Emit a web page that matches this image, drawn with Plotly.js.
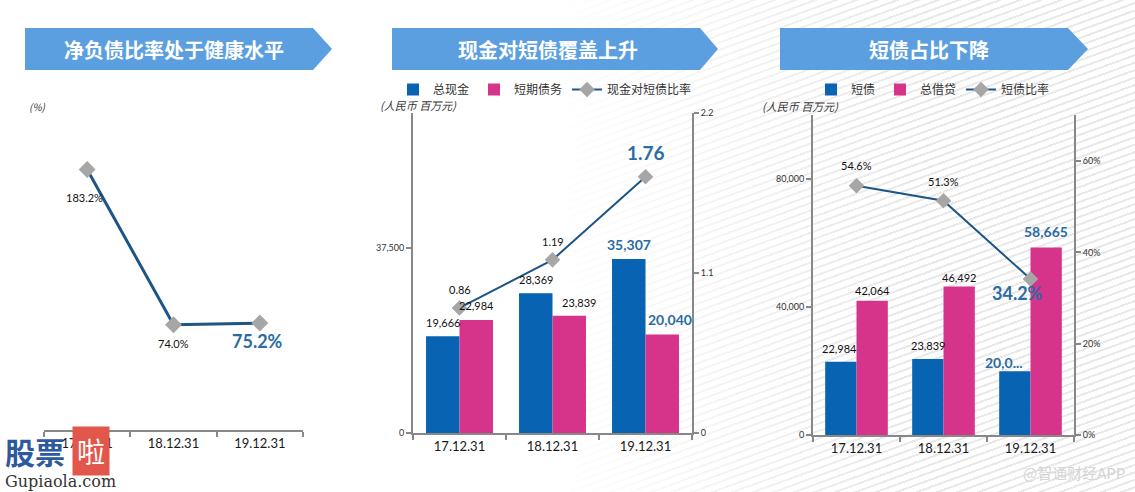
<!DOCTYPE html>
<html>
<head>
<meta charset="utf-8">
<script src="https://cdn.plot.ly/plotly-3.0.1.min.js"></script>
<style>
  body { margin: 0; background: #fff; }
  #bg {
    position: absolute; left: 0; top: 0; width: 1135px; height: 492px;
    background: repeating-linear-gradient(160deg, #ffffff 0px, #ffffff 5px, #e9e9e9 5px, #e9e9e9 7px);
    -webkit-mask-image: linear-gradient(to right, transparent 48%, #000 80%);
    mask-image: linear-gradient(to right, transparent 48%, #000 80%);
  }
  #chart { position: absolute; left: 0; top: 0; width: 1135px; height: 492px; }
</style>
</head>
<body>
<div id="bg"></div>
<div id="chart"></div>
<script>
// data
const categories = ["17.12.31", "18.12.31", "19.12.31"];
const netDebtRatio = [183.2, 74.0, 75.2];          // %
const totalCash = [19666, 28369, 35307];           // RMB mn
const shortDebt = [22984, 23839, 20040];           // RMB mn
const cashCoverage = [0.86, 1.19, 1.76];
const totalBorrowing = [42064, 46492, 58665];      // RMB mn
const shortDebtShare = [0.546, 0.513, 0.342];

const titles = ["净负债比率处于健康水平", "现金对短债覆盖上升", "短债占比下降"];

const BLUE = "#0863b2";
const PINK = "#d6338b";
const LINE = "#1d5585";
const GREY = "#a6a6a6";
const HILITE = "#2a6ca3";
const AXIS = "#888888";
const CJK = "'Noto Sans CJK SC', 'Noto Sans', sans-serif";
const NUM = "Lato, 'Open Sans', sans-serif";

// pixel -> paper helpers (page is 1135 x 492, no margins)
const W = 1135, H = 492;
const px = v => v / W;
const py = v => 1 - v / H;

const fmt = v => v.toLocaleString("en-US");

// ---- traces ----
const traces = [
  {
    x: categories, y: netDebtRatio, xaxis: "x", yaxis: "y",
    type: "scatter", mode: "lines+markers", showlegend: false,
    line: { color: LINE, width: 3 },
    marker: { symbol: "diamond", size: 13, color: GREY }
  },
  {
    x: categories, y: totalCash, xaxis: "x2", yaxis: "y2",
    type: "bar", name: "总现金", marker: { color: BLUE }, legend: "legend"
  },
  {
    x: categories, y: shortDebt, xaxis: "x2", yaxis: "y2",
    type: "bar", name: "短期债务", marker: { color: PINK }, legend: "legend"
  },
  {
    x: categories, y: cashCoverage, xaxis: "x2", yaxis: "y3",
    type: "scatter", mode: "lines+markers", name: "现金对短债比率", legend: "legend",
    line: { color: LINE, width: 2 },
    marker: { symbol: "diamond", size: 12, color: GREY }
  },
  {
    x: categories, y: shortDebt, xaxis: "x3", yaxis: "y4",
    type: "bar", name: "短债", marker: { color: BLUE }, legend: "legend2"
  },
  {
    x: categories, y: totalBorrowing, xaxis: "x3", yaxis: "y4",
    type: "bar", name: "总借贷", marker: { color: PINK }, legend: "legend2"
  },
  {
    x: categories, y: shortDebtShare, xaxis: "x3", yaxis: "y5",
    type: "scatter", mode: "lines+markers", name: "短债比率", legend: "legend2",
    line: { color: LINE, width: 2 },
    marker: { symbol: "diamond", size: 12, color: GREY }
  }
];

// ---- data labels ----
const annotations = [];
function label(xa, ya, x, y, text, dx, dy, big) {
  annotations.push({
    xref: xa, yref: ya, x: x, y: y, text: big ? "<b>" + text + "</b>" : text,
    showarrow: false, xshift: dx, yshift: dy, xanchor: "center", yanchor: "middle",
    font: big ? { family: NUM, size: big, color: HILITE } : { family: NUM, size: 11, color: "#111" }
  });
}

// panel 1
const p1dx = [-3, 0, -2], p1dy = [-28, -19, -18];
netDebtRatio.forEach((v, i) => label("x", "y", categories[i], v, v.toFixed(1) + "%", p1dx[i], p1dy[i], i === 2 ? 18 : 0));

// panel 2
const half2 = 16.7;
const cashDy = [14, 14, 15], sdDx = [0, 10, 8], sdDy = [14, 13, 15], covDy = [18, 18.5, 24];
totalCash.forEach((v, i) => label("x2", "y2", categories[i], v, fmt(v), -half2, cashDy[i], i === 2 ? 14 : 0));
shortDebt.forEach((v, i) => label("x2", "y2", categories[i], v, fmt(v), half2 + sdDx[i], sdDy[i], i === 2 ? 14 : 0));
cashCoverage.forEach((v, i) => label("x2", "y3", categories[i], v, v.toFixed(2), 0, covDy[i], i === 2 ? 19 : 0));

// panel 3
const half3 = 15.7;
const sd3Dx = [-1, 0, -11], sd3Dy = [13, 14, 9], tbDy = [10, 9, 16];
const shDx = [0, 0, -13], shDy = [20, 19, -14];
shortDebt.forEach((v, i) => {
  const txt = i === 2 ? fmt(v).slice(0, 4) + "..." : fmt(v);   // clipped on the slide
  label("x3", "y4", categories[i], v, txt, -half3 + sd3Dx[i], sd3Dy[i], i === 2 ? 14 : 0);
});
totalBorrowing.forEach((v, i) => label("x3", "y4", categories[i], v, fmt(v), half3, tbDy[i], i === 2 ? 14 : 0));
shortDebtShare.forEach((v, i) => label("x3", "y5", categories[i], v, (v * 100).toFixed(1) + "%", shDx[i], shDy[i], i === 2 ? 18 : 0));

// unit captions
annotations.push(
  { xref: "paper", yref: "paper", x: px(27), y: py(106), xanchor: "left", yanchor: "middle", showarrow: false,
    text: "<i>(%)</i>", font: { family: CJK, size: 10, color: "#333" } },
  { xref: "paper", yref: "paper", x: px(378), y: py(105), xanchor: "left", yanchor: "middle", showarrow: false,
    text: "<i>(人民币 百万元)</i>", font: { family: CJK, size: 11, color: "#333" } },
  { xref: "paper", yref: "paper", x: px(760), y: py(106), xanchor: "left", yanchor: "middle", showarrow: false,
    text: "<i>(人民币 百万元)</i>", font: { family: CJK, size: 11, color: "#333" } }
);

// banner arrows + titles
const banners = [[25, 313, 332], [392, 700, 718], [780, 1068, 1088]];
const shapes = banners.map(b => ({
  type: "path", xref: "paper", yref: "paper", layer: "below",
  path: `M ${px(b[0])},${py(28)} L ${px(b[1])},${py(28)} L ${px(b[2])},${py(49)} L ${px(b[1])},${py(70)} L ${px(b[0])},${py(70)} Z`,
  fillcolor: "#5c9fe0", line: { width: 0 }
}));
const titleCx = [174, 548, 929];
titles.forEach((t, i) => annotations.push({
  xref: "paper", yref: "paper", x: px(titleCx[i]), y: py(49), xanchor: "center", yanchor: "middle",
  showarrow: false, text: "<b>" + t + "</b>", font: { family: CJK, size: 20, color: "#ffffff" }
}));

// watermarks
annotations.push(
  { xref: "paper", yref: "paper", x: px(3), y: py(451), xanchor: "left", yanchor: "middle", showarrow: false,
    text: "<b>股票</b>", font: { family: CJK, size: 30, color: "#2d5a9e" } },
  { xref: "paper", yref: "paper", x: px(91), y: py(451), xanchor: "center", yanchor: "middle", showarrow: false,
    text: "啦", font: { family: CJK, size: 28, color: "#ffffff" }, bgcolor: "#e2574b", borderpad: 4 },
  { xref: "paper", yref: "paper", x: px(3), y: py(481), xanchor: "left", yanchor: "middle", showarrow: false,
    text: "Gupiaola.com", font: { family: "'DejaVu Serif', serif", size: 16, color: "#333" } },
  { xref: "paper", yref: "paper", x: px(1127), y: py(472), xanchor: "right", yanchor: "middle", showarrow: false,
    text: "@智通财经APP", font: { family: CJK, size: 15, color: "#d4d4d4" } }
);

// ---- axes ----
const xBase = {
  type: "category", range: [-0.5, 2.5], tickson: "boundaries",
  showline: true, linecolor: AXIS, linewidth: 2,
  ticks: "outside", ticklen: 5, tickcolor: AXIS, tickwidth: 2,
  showgrid: false, zeroline: false, fixedrange: true,
  tickfont: { family: NUM, size: 13, color: "#1a1a1a" }
};
const yBase = {
  showline: true, linecolor: AXIS, linewidth: 2,
  ticks: "outside", ticklen: 5, tickcolor: AXIS, tickwidth: 2,
  showgrid: false, zeroline: false, fixedrange: true,
  tickfont: { family: NUM, size: 9, color: "#333" }
};

const legendBase = {
  orientation: "h", xanchor: "center", y: py(75), yanchor: "top",
  font: { family: CJK, size: 12, color: "#333" }, bgcolor: "rgba(0,0,0,0)", itemwidth: 30
};

const layout = {
  width: W, height: H,
  margin: { l: 0, r: 0, t: 0, b: 0 },
  paper_bgcolor: "rgba(0,0,0,0)",
  plot_bgcolor: "rgba(0,0,0,0)",
  barmode: "group", bargap: 0.28, bargroupgap: 0,
  showlegend: true,
  legend: { ...legendBase, x: px(545) },
  legend2: { ...legendBase, x: px(933) },

  xaxis: { ...xBase, domain: [px(44), px(303)], anchor: "y" },
  yaxis: { domain: [py(430), py(145.6)], range: [0, 200], visible: false, fixedrange: true, anchor: "x" },

  xaxis2: { ...xBase, domain: [px(413), px(692)], anchor: "y2" },
  yaxis2: { ...yBase, domain: [py(433.3), py(112.6)], range: [0, 65000], tickvals: [0, 37500],
            tickformat: ",d", anchor: "x2" },
  yaxis3: { ...yBase, range: [0, 2.2], tickvals: [0, 1.1, 2.2], overlaying: "y2", side: "right", anchor: "x2" },

  xaxis3: { ...xBase, domain: [px(813), px(1074)], anchor: "y4" },
  yaxis4: { ...yBase, domain: [py(435.3), py(115.3)], range: [0, 100000], tickvals: [0, 40000, 80000],
            tickformat: ",d", anchor: "x3" },
  yaxis5: { ...yBase, range: [0, 0.7], tickvals: [0, 0.2, 0.4, 0.6], tickformat: ".0%",
            overlaying: "y4", side: "right", anchor: "x3" },

  shapes: shapes,
  annotations: annotations
};

Plotly.newPlot("chart", traces, layout, { displayModeBar: false, staticPlot: true });
</script>
</body>
</html>
